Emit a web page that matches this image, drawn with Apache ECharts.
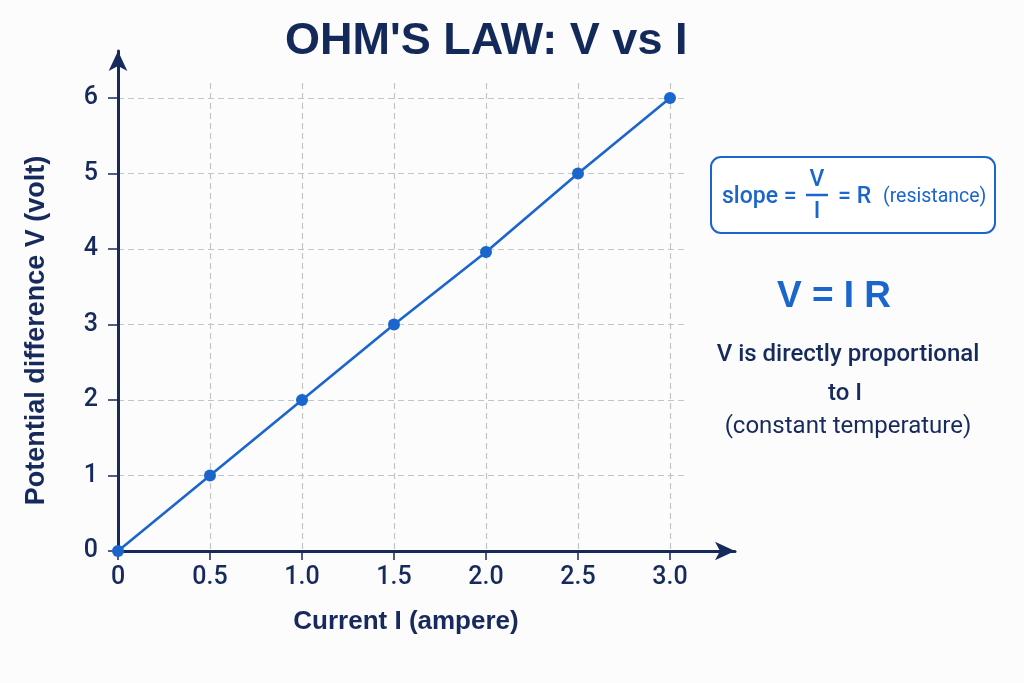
<!DOCTYPE html>
<html>
<head>
    <meta charset="utf-8">
    <title>Ohm's law</title>
    <script src="https://cdn.jsdelivr.net/npm/echarts@6/dist/echarts.min.js"></script>
    <style>
        html, body {
            margin: 0;
            width: 100%;
            height: 100%;
            background: #fcfcfd;
        }
        #main {
            width: 1024px;
            height: 683px;
        }
    </style>
</head>
<body>
<div id="main"></div>

<script type="text/javascript">
    // readings
    var currentI = [0, 0.5, 1.0, 1.5, 2.0, 2.5, 3.0];
    var voltageV = [0, 1, 2, 3, 3.96, 5, 6];

    var xTickLabels = ['0', '0.5', '1.0', '1.5', '2.0', '2.5', '3.0'];
    var yTickLabels = ['0', '1', '2', '3', '4', '5', '6'];

    var navy = '#172a5c';
    var blue = '#1a66cc';
    var font = 'Liberation Sans, Arial, sans-serif';
    var font2 = 'Roboto, Liberation Sans, sans-serif';

    var points = currentI.map((x, i) => [x, voltageV[i]]);

    var myChart = echarts.init(document.getElementById('main'));

    // grid 0: data + labels, 1: horizontal dashes, 2: vertical dashes, 3: arrow axes
    var option = {
        backgroundColor: '#fcfcfd',
        title: {
            text: "OHM'S LAW: V vs I",
            left: 285,
            top: 19,
            padding: 0,
            textStyle: {fontFamily: font, fontSize: 45, fontWeight: 'bold', color: '#13295a'}
        },
        grid: [
            {left: 118, top: 98, width: 552, height: 453},
            {left: 118, top: 98, width: 570, height: 453},
            {left: 118, top: 83, width: 552, height: 468},
            {left: 118, top: 51, width: 617, height: 500}
        ],
        xAxis: [
            {
                gridIndex: 0, type: 'value', min: 0, max: 3, interval: 0.5,
                axisLine: {show: false},
                axisTick: {show: true, length: 9, lineStyle: {color: navy, width: 1.5}},
                splitLine: {show: false},
                axisLabel: {
                    margin: 14, color: navy, fontFamily: font2, fontWeight: 500, fontSize: 25,
                    formatter: (v) => xTickLabels[Math.round(v / 0.5)]
                },
                name: 'Current I (ampere)',
                nameLocation: 'middle',
                nameGap: 58,
                nameTextStyle: {fontFamily: font, fontSize: 26, fontWeight: 'bold', color: navy,
                    padding: [0, 0, 0, 24]}
            },
            {gridIndex: 1, type: 'value', min: 0, max: 1, show: false},
            {
                gridIndex: 2, type: 'value', min: 0, max: 3, interval: 0.5,
                axisLine: {show: false}, axisTick: {show: false}, axisLabel: {show: false},
                splitLine: {show: true, lineStyle: {color: '#c4c4c4', type: [6, 4], width: 1.2}}
            },
            {
                gridIndex: 3, type: 'value', min: 0, max: 1,
                axisLine: {show: true, symbol: ['none', 'arrow'], symbolSize: [14, 20],
                    lineStyle: {color: navy, width: 3}},
                axisTick: {show: false}, axisLabel: {show: false}, splitLine: {show: false}
            }
        ],
        yAxis: [
            {
                gridIndex: 0, type: 'value', min: 0, max: 6, interval: 1,
                axisLine: {show: false},
                axisTick: {show: true, length: 10, lineStyle: {color: navy, width: 1.5}},
                splitLine: {show: false},
                axisLabel: {
                    margin: 20, color: navy, fontFamily: font2, fontWeight: 500, fontSize: 25,
                    formatter: (v) => yTickLabels[Math.round(v)]
                },
                name: 'Potential difference V (volt)',
                nameLocation: 'middle',
                nameRotate: 90,
                nameGap: 68,
                nameTextStyle: {fontFamily: font, fontSize: 27, fontWeight: 'bold', color: navy,
                    padding: [0, 12, 0, 0]}
            },
            {
                gridIndex: 1, type: 'value', min: 0, max: 6, interval: 1,
                axisLine: {show: false}, axisTick: {show: false}, axisLabel: {show: false},
                splitLine: {show: true, lineStyle: {color: '#c4c4c4', type: [6, 4], width: 1.2}}
            },
            {gridIndex: 2, type: 'value', min: 0, max: 1, show: false},
            {
                gridIndex: 3, type: 'value', min: 0, max: 1,
                axisLine: {show: true, symbol: ['none', 'arrow'], symbolSize: [14, 20],
                    lineStyle: {color: navy, width: 3}},
                axisTick: {show: false}, axisLabel: {show: false}, splitLine: {show: false}
            }
        ],
        series: [
            {
                name: 'V',
                type: 'line',
                xAxisIndex: 0,
                yAxisIndex: 0,
                data: points,
                symbol: 'circle',
                symbolSize: 12,
                z: 5,
                itemStyle: {color: blue},
                lineStyle: {color: blue, width: 2.6}
            }
        ],
        graphic: [
            {
                type: 'rect',
                shape: {x: 711, y: 157, width: 284, height: 76, r: 10},
                style: {fill: '#ffffff', stroke: blue, lineWidth: 2}
            },
            {
                type: 'text', x: 722, y: 197,
                style: {text: 'slope =', fill: blue, font: '500 23px ' + font2, align: 'left', verticalAlign: 'middle'}
            },
            {
                type: 'text', x: 817, y: 180,
                style: {text: 'V', fill: blue, font: '500 23px ' + font2, align: 'center', verticalAlign: 'middle'}
            },
            {
                type: 'line',
                shape: {x1: 806, y1: 195, x2: 828, y2: 195},
                style: {stroke: blue, lineWidth: 2.5}
            },
            {
                type: 'text', x: 817, y: 212,
                style: {text: 'I', fill: blue, font: '500 23px ' + font2, align: 'center', verticalAlign: 'middle'}
            },
            {
                type: 'text', x: 838, y: 197,
                style: {text: '= R', fill: blue, font: '500 23px ' + font2, align: 'left', verticalAlign: 'middle'}
            },
            {
                type: 'text', x: 883, y: 197,
                style: {text: '(resistance)', fill: blue, font: '19.5px ' + font2, align: 'left', verticalAlign: 'middle'}
            },
            {
                type: 'text', x: 834, y: 297,
                style: {text: 'V = I R', fill: blue, font: 'bold 37px ' + font, align: 'center', verticalAlign: 'middle'}
            },
            {
                type: 'text', x: 848, y: 355,
                style: {text: 'V is directly proportional', fill: navy, font: '500 24px ' + font2, align: 'center', verticalAlign: 'middle'}
            },
            {
                type: 'text', x: 845, y: 394,
                style: {text: 'to I', fill: navy, font: '500 24px ' + font2, align: 'center', verticalAlign: 'middle'}
            },
            {
                type: 'text', x: 848, y: 427,
                style: {text: '(constant temperature)', fill: navy, font: '24px ' + font2, align: 'center', verticalAlign: 'middle'}
            }
        ]
    };

    myChart.setOption(option);
</script>

</body>
</html>
